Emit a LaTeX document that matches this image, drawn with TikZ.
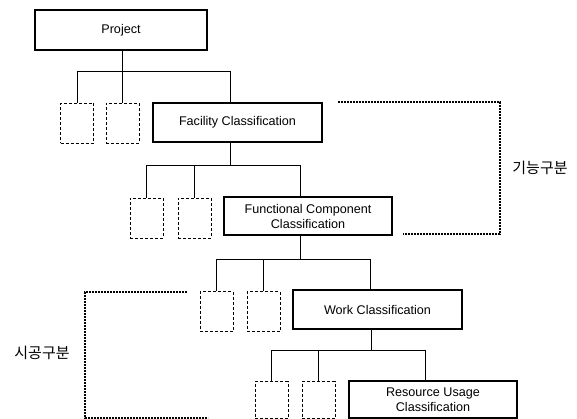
\documentclass[tikz,border=0pt]{standalone}
\usepackage{fontspec}
\setmainfont{Liberation Sans}
\newfontfamily\kofont{Noto Sans CJK KR}
\begin{document}
\begin{tikzpicture}[x=1pt,y=-1pt,
  box/.style={draw,line width=1.1pt,inner sep=0pt,font=\fontsize{12.6}{15}\selectfont,align=center},
  topbox/.style={box,line width=2.2pt},
  dbox/.style={draw,line width=0.8pt,dash pattern=on 3pt off 2pt,minimum width=33pt,minimum height=40pt,inner sep=0pt},
  link/.style={line width=1pt},
  bracket/.style={line width=1.8pt,dash pattern=on 1.6pt off 1.4pt},
  lab/.style={font=\kofont\fontsize{15}{17}\selectfont}]
\useasboundingbox (0,0) rectangle (577,419);
% level 0
\node[topbox,minimum width=172pt,minimum height=40pt] (proj) at (121,30) {Project};
% level 1
\node[dbox] (d11) at (77,123.5) {};
\node[dbox] (d12) at (122.5,123.5) {};
\node[box,minimum width=169pt,minimum height=39pt] (fac) at (237.5,122.5) {Facility Classification};
% level 2
\node[dbox] (d21) at (146.5,218) {};
\node[dbox] (d22) at (194.5,218) {};
\node[box,minimum width=168pt,minimum height=38pt] (fun) at (308,216) {Functional Component\\Classification};
% level 3
\node[dbox] (d31) at (216.5,311.5) {};
\node[dbox] (d32) at (263.5,311.5) {};
\node[box,minimum width=169pt,minimum height=39pt] (work) at (377.5,309.5) {Work Classification};
% level 4
\node[dbox,minimum height=37pt] (d41) at (271.5,400) {};
\node[dbox,minimum height=37pt] (d42) at (318.5,400) {};
\node[box,minimum width=168pt,minimum height=37pt] (res) at (433,399.5) {Resource Usage\\Classification};
% bar coordinates
\coordinate (b1) at (0,72);
\coordinate (b2) at (0,166);
\coordinate (b3) at (0,259);
\coordinate (b4) at (0,350);
% connectors level 0-1
\draw[link] ([xshift=1pt]proj.south) -- ([xshift=1pt]proj.south |- b1);
\draw[link] (d11.north) -- (d11.north |- b1) -- ([xshift=-7.5pt]fac.north |- b1) -- ([xshift=-7.5pt]fac.north);
\draw[link] (d12.north) -- (d12.north |- b1);
% level 1-2
\draw[link] ([xshift=-7.5pt]fac.south) -- ([xshift=-7.5pt]fac.south |- b2);
\draw[link] (d21.north) -- (d21.north |- b2) -- ([xshift=-8pt]fun.north |- b2) -- ([xshift=-8pt]fun.north);
\draw[link] (d22.north) -- (d22.north |- b2);
% level 2-3
\draw[link] ([xshift=-8pt]fun.south) -- ([xshift=-8pt]fun.south |- b3);
\draw[link] (d31.north) -- (d31.north |- b3) -- ([xshift=-7.5pt]work.north |- b3) -- ([xshift=-7.5pt]work.north);
\draw[link] (d32.north) -- (d32.north |- b3);
% level 3-4
\draw[link] ([xshift=-6.5pt]work.south) -- ([xshift=-6.5pt]work.south |- b4);
\draw[link] (d41.north) -- (d41.north |- b4) -- ([xshift=-8pt]res.north |- b4) -- ([xshift=-8pt]res.north);
\draw[link] (d42.north) -- (d42.north |- b4);
% dotted brackets
\draw[bracket] (338,102) -- (500,102) -- (500,234) -- (403,234);
\node[lab] (k1) at (540,168) {기능구분};
\draw[bracket] (187,292) -- (85,292) -- (85,418) -- (208,418);
\node[lab] (k2) at (42,353) {시공구분};
\end{tikzpicture}
\end{document}
